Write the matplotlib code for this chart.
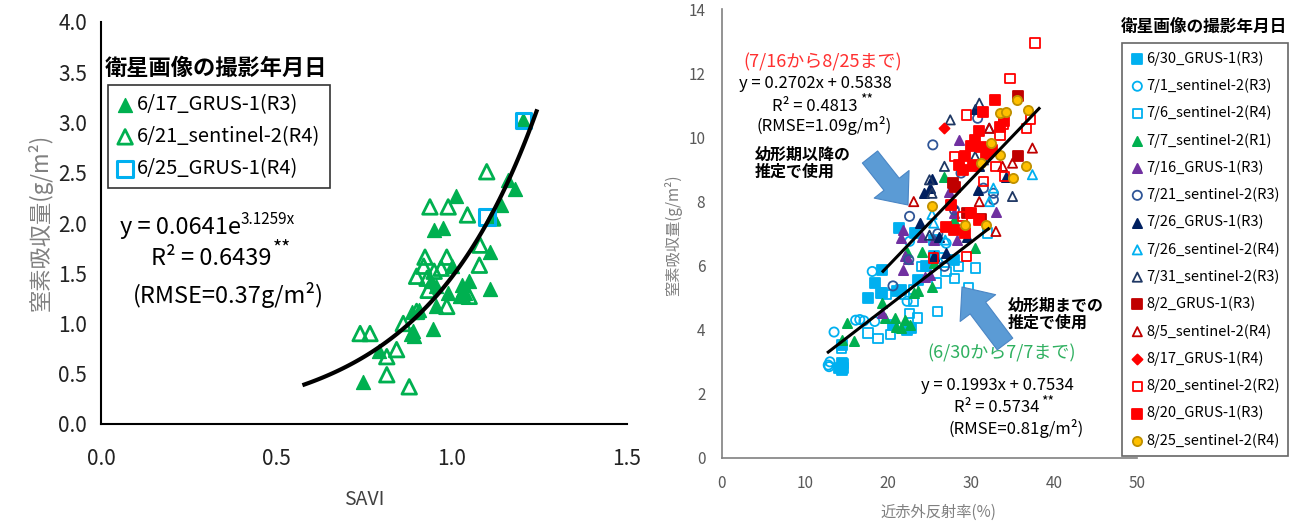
import math
import matplotlib.pyplot as plt
from matplotlib.patches import FancyArrowPatch

plt.rcParams['font.family'] = ['Noto Sans CJK JP', 'DejaVu Sans']

##### 左図 SAVI のデータ #####
savi_617 = [0.746, 0.793, 0.885, 0.890, 0.893, 0.888, 0.906, 0.948, 0.954, 0.954, 0.940, 0.950,
            0.975, 1.012, 0.989, 1.000, 1.025, 1.032, 1.038, 1.030, 1.049, 1.110, 1.108, 1.118,
            1.140, 1.160, 1.180, 1.203]
n_617 = [0.42, 0.73, 0.90, 0.93, 0.88, 1.11, 1.13, 0.95, 1.17, 1.37, 1.42, 1.93,
         1.95, 2.27, 1.30, 1.57, 1.27, 1.33, 1.30, 1.38, 1.42, 1.34, 1.71, 2.05,
         2.18, 2.43, 2.34, 3.02]
savi_621 = [0.739, 0.767, 0.815, 0.843, 0.815, 0.879, 0.862, 0.900, 0.938, 0.990, 1.045, 1.100,
            1.081, 1.079, 0.924, 0.986, 0.920, 0.900, 0.950, 0.970, 0.933, 0.986, 1.050, 1.030,
            1.117, 0.930]
n_621 = [0.90, 0.90, 0.67, 0.74, 0.49, 0.37, 1.00, 1.12, 2.16, 2.16, 2.08, 2.51,
         1.78, 1.58, 1.66, 1.66, 1.57, 1.47, 1.52, 1.55, 1.33, 1.17, 1.27, 1.28,
         2.05, 1.45]
savi_625 = [1.205, 1.100]
n_625 = [3.02, 2.06]
a_exp, b_exp = 0.0641, 3.1259

##### 右図 近赤外反射率のデータ #####
x630 = [14.1, 14.4, 14.6, 14.4, 14.4, 17.6, 18.4, 19.3, 19.3, 21.1, 21.6, 22.3, 22.8, 20.6, 21.3,
        23.3, 24.6, 25.5, 28.0, 23.6, 25.5]
y630 = [2.80, 2.75, 2.80, 2.96, 3.53, 4.99, 5.46, 5.87, 5.15, 5.20, 5.25, 4.00, 4.05, 4.16, 7.17,
        7.02, 5.98, 6.29, 6.19, 5.56, 6.80]
x701 = [12.8, 13.0, 12.9, 13.5, 16.1, 16.6, 17.1, 18.1, 18.4, 22.3, 27.0, 22.6, 26.0]
y701 = [2.90, 3.00, 2.85, 3.93, 4.30, 4.32, 4.28, 5.82, 4.26, 4.89, 6.70, 6.76, 6.10]
x706 = [14.4, 14.6, 17.6, 18.8, 20.3, 19.1, 19.8, 22.6, 23.6, 23.1, 26.0, 25.8, 27.0, 28.0, 28.5,
        29.7, 30.5, 24.1, 32.0, 23.1, 26.5, 22.0]
y706 = [3.43, 2.96, 3.90, 3.74, 3.85, 5.15, 5.10, 4.52, 4.37, 5.25, 4.57, 5.46, 5.82, 5.61, 5.98,
        5.33, 5.93, 5.98, 7.02, 4.89, 6.24, 5.10]
x707 = [15.1, 15.9, 14.4, 19.3, 19.6, 20.8, 21.6, 22.1, 22.6, 23.1, 23.6, 22.3, 24.1, 25.3, 25.5,
        26.8, 28.0, 30.5, 21.0]
y707 = [4.21, 3.64, 3.69, 4.83, 4.37, 4.37, 4.05, 4.31, 4.16, 5.15, 5.20, 6.44, 6.44, 5.35, 6.08,
        8.78, 7.43, 6.55, 4.10]
x716 = [19.3, 21.8, 21.8, 22.1, 22.4, 24.1, 25.5, 25.0, 24.4, 28.5, 28.0, 28.3, 33.0, 21.6, 27.4]
y716 = [4.52, 5.87, 7.12, 6.29, 6.20, 6.91, 6.81, 5.72, 5.65, 9.93, 7.64, 6.81, 7.69, 6.85, 8.30]
x721 = [25.4, 22.6, 22.5, 20.6, 26.8, 28.0, 28.8, 31.5, 32.7, 32.7, 30.8, 26.0]
y721 = [9.77, 7.54, 6.19, 5.37, 5.98, 7.74, 8.89, 8.42, 8.26, 8.06, 10.6, 7.00]
x726g = [23.8, 24.3, 25.0, 25.3, 25.5, 27.0, 27.7, 31.0, 30.5, 34.2, 30.8, 26.2, 29.5]
y726g = [7.33, 8.26, 8.42, 8.70, 6.29, 6.39, 7.95, 9.10, 10.9, 8.78, 8.37, 6.90, 6.90]
x726s = [37.4, 32.7, 25.5, 26.9, 25.3, 32.2]
y726s = [8.84, 8.42, 7.33, 6.80, 7.60, 8.00]
x731 = [27.5, 31.0, 35.0, 25.0, 25.3, 26.8, 29.0, 30.5, 32.2, 25.0, 31.5]
y731 = [10.55, 11.07, 8.16, 8.68, 8.26, 9.10, 9.10, 9.41, 10.29, 6.95, 9.30]
x802 = [27.8, 28.1, 35.7, 35.7, 31.2, 29.5]
y802 = [8.58, 8.45, 9.41, 11.28, 7.45, 7.64]
x805 = [23.1, 37.4, 33.0, 35.0, 31.0, 32.2, 33.8]
y805 = [8.00, 9.67, 7.07, 9.20, 8.00, 10.29, 9.10]
x817 = [26.7]
y817 = [10.29]
x820s = [37.7, 34.7, 29.5, 28.0, 31.5, 33.9, 33.5, 36.7, 37.2, 29.5, 25.5, 34.0, 29.0, 33.0, 30.5]
y820s = [12.95, 11.85, 10.70, 9.41, 8.63, 10.40, 10.08, 10.29, 10.55, 6.29, 6.24, 8.78, 7.54, 9.10, 9.15]
x820g = [32.9, 31.5, 31.0, 30.5, 30.0, 31.2, 29.3, 28.5, 30.2, 31.8, 33.5, 34.0, 27.0, 28.0, 29.3,
         30.0, 31.0, 32.5, 27.6, 29.0]
y820g = [11.17, 10.80, 10.19, 9.93, 9.72, 9.70, 9.41, 9.15, 9.10, 9.50, 10.34, 10.50, 7.22, 7.10, 7.02,
         7.64, 7.43, 9.62, 7.90, 9.00]
x825 = [35.5, 33.5, 34.2, 36.9, 32.4, 33.5, 31.2, 36.6, 35.0, 25.3, 29.3, 31.8]
y825 = [11.17, 10.76, 10.81, 10.86, 9.82, 9.46, 9.20, 9.10, 8.73, 7.85, 7.28, 7.28]

# 回帰式 (傾き, 切片, x範囲)
fit_late = (0.2702, 0.5838, 19.4, 38.2)
fit_early = (0.1993, 0.7534, 12.8, 32.1)

W, H = 1293, 526
def fx(px):
    return px / W
def fy(py):
    return 1 - py / H

fig = plt.figure(figsize=(W / 100, H / 100), dpi=100)

### 左図
ax1 = fig.add_axes([fx(101), fy(424), (627 - 101) / W, (424 - 22) / H])
green = '#00B050'
blue = '#00B0F0'
ax1.scatter(savi_617, n_617, marker='^', s=100, color=green, zorder=3, label='6/17_GRUS-1(R3)')
ax1.scatter(savi_621, n_621, marker='^', s=110, facecolors='none', edgecolors=green, linewidths=2,
            zorder=3, label='6/21_sentinel-2(R4)')
ax1.scatter(savi_625, n_625, marker='s', s=130, facecolors='none', edgecolors=blue, linewidths=2.2,
            zorder=4, label='6/25_GRUS-1(R4)')
xs = [0.58 + i * (1.242 - 0.58) / 100 for i in range(101)]
ax1.plot(xs, [a_exp * math.exp(b_exp * v) for v in xs], color='black', lw=3, zorder=5)
ax1.set_xlim(0, 1.5)
ax1.set_ylim(0, 4)
ax1.set_xticks([0, 0.5, 1.0, 1.5])
ax1.set_xticklabels(['0.0', '0.5', '1.0', '1.5'])
ax1.set_yticks([i * 0.5 for i in range(9)])
ax1.set_yticklabels(['%.1f' % (i * 0.5) for i in range(9)])
ax1.tick_params(length=0, labelsize=15, colors='#222222')
ax1.tick_params(axis='x', pad=17)
ax1.tick_params(axis='y', pad=10)
for s in ['top', 'right']:
    ax1.spines[s].set_visible(False)
for s in ['left', 'bottom']:
    ax1.spines[s].set_linewidth(1.5)
ax1.set_xlabel('SAVI', fontsize=14, color='#404040', labelpad=14)
fig.text(fx(40), fy(222), '窒素吸収量(g/m²)', rotation=90, fontsize=16, color='#808080',
         ha='center', va='center')

fig.text(fx(105), fy(68), '衛星画像の撮影年月日', fontsize=16, fontweight='bold', ha='left', va='center')
leg1 = ax1.legend(loc='upper left', bbox_to_anchor=(fx(108), fy(85)), bbox_transform=fig.transFigure,
                  fontsize=14.5, frameon=True, fancybox=False, edgecolor='black', handletextpad=0.2,
                  handlelength=0.8, borderpad=0.45, labelspacing=0.55, borderaxespad=0)
leg1.get_frame().set_linewidth(1.2)

t_eq = fig.text(fx(120), fy(228), 'y = 0.0641e', fontsize=17, ha='left', va='center')
fig.text(fx(0), fy(0), '')
t_r2 = fig.text(fx(151), fy(259), 'R² = 0.6439', fontsize=17, ha='left', va='center')
fig.text(fx(133), fy(295), '(RMSE=0.37g/m²)', fontsize=17, ha='left', va='center')
plt.annotate('3.1259x', xy=(1, 0.85), xycoords=t_eq, ha='left', va='center', fontsize=11)
plt.annotate('**', xy=(1.01, 0.95), xycoords=t_r2, ha='left', va='center', fontsize=14)

### 右図
ax2 = fig.add_axes([fx(722), fy(458), (1137 - 722) / W, (458 - 9.3) / H])
navy = '#1F3864'
navy2 = '#2F5597'
red = '#FF0000'
dred = '#C00000'
ms = 44
series = [
    (x630, y630, 's', blue, blue, '6/30_GRUS-1(R3)'),
    (x701, y701, 'o', 'none', blue, '7/1_sentinel-2(R3)'),
    (x706, y706, 's', 'none', blue, '7/6_sentinel-2(R4)'),
    (x707, y707, '^', green, green, '7/7_sentinel-2(R1)'),
    (x716, y716, '^', '#7030A0', '#7030A0', '7/16_GRUS-1(R3)'),
    (x721, y721, 'o', 'none', navy2, '7/21_sentinel-2(R3)'),
    (x726g, y726g, '^', '#002060', '#002060', '7/26_GRUS-1(R3)'),
    (x726s, y726s, '^', 'none', blue, '7/26_sentinel-2(R4)'),
    (x731, y731, '^', 'none', navy, '7/31_sentinel-2(R3)'),
    (x802, y802, 's', dred, dred, '8/2_GRUS-1(R3)'),
    (x805, y805, '^', 'none', dred, '8/5_sentinel-2(R4)'),
    (x817, y817, 'D', red, red, '8/17_GRUS-1(R4)'),
    (x820s, y820s, 's', 'none', red, '8/20_sentinel-2(R2)'),
    (x820g, y820g, 's', red, red, '8/20_GRUS-1(R3)'),
    (x825, y825, 'o', '#FFC000', '#BF9000', '8/25_sentinel-2(R4)'),
]
for xv, yv, mk, fc, ec, lab in series:
    size = ms * 0.6 if mk == 'D' else ms
    ax2.scatter(xv, yv, marker=mk, s=size, facecolors=fc, edgecolors=ec, linewidths=1.3,
                zorder=3, label=lab)

for k, b, x0, x1 in [fit_late, fit_early]:
    ax2.plot([x0, x1], [k * x0 + b, k * x1 + b], color='black', lw=2.2, zorder=5)

ax2.set_xlim(0, 50)
ax2.set_ylim(0, 14)
ax2.set_xticks(range(0, 51, 10))
ax2.set_yticks(range(0, 15, 2))
ax2.tick_params(length=0, labelsize=11, colors='#595959')
ax2.tick_params(axis='x', pad=12)
ax2.tick_params(axis='y', pad=12)
for s in ['top', 'right']:
    ax2.spines[s].set_visible(False)
for s in ['left', 'bottom']:
    ax2.spines[s].set_color('#808080')
    ax2.spines[s].set_linewidth(1.2)
fig.text(fx(938), fy(512), '近赤外反射率(%)', fontsize=11, color='#808080', ha='center', va='center')
fig.text(fx(673), fy(235), '窒素吸収量(g/m²)', rotation=90, fontsize=11, color='#808080',
         ha='center', va='center')

fig.text(fx(1204), fy(27), '衛星画像の撮影年月日', fontsize=12, fontweight='bold', ha='center', va='center')
leg2 = ax2.legend(loc='upper left', bbox_to_anchor=(fx(1122), fy(43)), bbox_transform=fig.transFigure,
                  fontsize=10.5, frameon=True, fancybox=False, edgecolor='#404040', handletextpad=0.1,
                  handlelength=1.0, borderpad=0.55, labelspacing=0.86, borderaxespad=0, scatterpoints=1)
leg2.get_frame().set_linewidth(1.2)

fig.text(fx(823), fy(62), '(7/16から8/25まで)', fontsize=13, color='#FF3030', ha='center', va='center')
fig.text(fx(815), fy(84), 'y = 0.2702x + 0.5838', fontsize=12, ha='center', va='center')
fig.text(fx(815), fy(106), 'R² = 0.4813', fontsize=12, ha='center', va='center')
fig.text(fx(860), fy(99), '**', fontsize=10, ha='left', va='center')
fig.text(fx(824), fy(126), '(RMSE=1.09g/m²)', fontsize=12, ha='center', va='center')
fig.text(fx(755), fy(163), '幼形期以降の\n推定で使用', fontsize=11.5, fontweight='bold', ha='left',
         va='center', linespacing=1.05)

fig.text(fx(1008), fy(314), '幼形期までの\n推定で使用', fontsize=11.5, fontweight='bold', ha='left',
         va='center', linespacing=1.05)
fig.text(fx(1002), fy(353), '(6/30から7/7まで)', fontsize=13, color='#2FB060', ha='center', va='center')
fig.text(fx(997), fy(386), 'y = 0.1993x + 0.7534', fontsize=12, ha='center', va='center')
fig.text(fx(997), fy(408), 'R² = 0.5734', fontsize=12, ha='center', va='center')
fig.text(fx(1041), fy(401), '**', fontsize=10, ha='left', va='center')
fig.text(fx(1016), fy(429), '(RMSE=0.81g/m²)', fontsize=12, ha='center', va='center')

arrow_style = 'simple,head_length=1.9,head_width=3.2,tail_width=1.4'
for p0, p1 in [((870, 157), (908, 205)), ((1005, 344), (962, 287))]:
    arr = FancyArrowPatch((fx(p0[0]), fy(p0[1])), (fx(p1[0]), fy(p1[1])), transform=fig.transFigure,
                          arrowstyle=arrow_style, mutation_scale=10, facecolor='#5B9BD5',
                          edgecolor='#4A86C5', lw=0.8, shrinkA=0, shrinkB=0, zorder=6)
    fig.add_artist(arr)

plt.savefig('out.png', dpi=100)
